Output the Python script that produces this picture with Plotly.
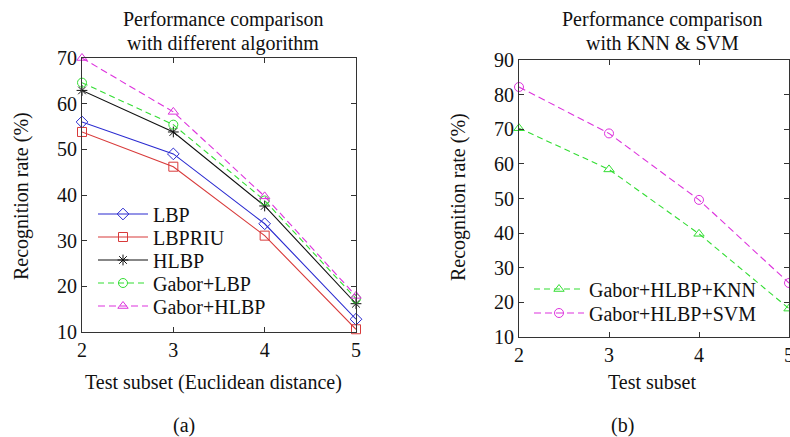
import plotly.graph_objects as go

subsets = [2, 3, 4, 5]

# Panel (a)
lbp = [56.0, 49.0, 33.7, 12.8]
lbpriu = [53.8, 46.2, 31.1, 10.6]
hlbp = [62.9, 53.8, 37.6, 16.2]
gabor_lbp = [64.6, 55.4, 38.8, 17.3]
gabor_hlbp = [70.0, 58.2, 39.7, 17.9]

# Panel (b)
knn = [70.3, 58.4, 39.8, 18.2]
svm = [82.2, 68.8, 49.6, 25.6]

W, H = 790, 437
FONT = "Liberation Serif"
FS = 20
TXT = "#111111"

fig = go.Figure()

def px(v):
    return v / W

def py(v):
    return 1 - v / H

legend_layouts = {}

def add(y, name, color, sym, dash, xa, ya, leg, lx, ly):
    fig.add_trace(go.Scatter(
        x=subsets, y=y, name=name, mode="lines+markers",
        line=dict(color=color, width=1.1, dash=dash),
        marker=dict(symbol=sym, size=9, color=color, line=dict(color=color, width=1)),
        xaxis=xa, yaxis=ya, legend=leg, cliponaxis=False))
    legend_layouts[leg] = dict(x=px(lx), y=py(ly), xanchor="left", yanchor="middle",
                               bgcolor="rgba(0,0,0,0)", font=dict(family=FONT, size=FS, color=TXT),
                               itemwidth=50, tracegroupgap=0)

add(lbp, "LBP", "#2a2ad0", "diamond-open", "solid", "x", "y", "legend", 93, 214)
add(lbpriu, "LBPRIU", "#d83a3a", "square-open", "solid", "x", "y", "legend2", 93, 237)
add(hlbp, "HLBP", "#111111", "asterisk-open", "solid", "x", "y", "legend3", 93, 260)
add(gabor_lbp, "Gabor+LBP", "#33dd33", "circle-open", "6px,4px", "x", "y", "legend4", 93, 283)
add(gabor_hlbp, "Gabor+HLBP", "#dd33dd", "triangle-up-open", "7px,4px", "x", "y", "legend5", 93, 306)
add(knn, "Gabor+HLBP+KNN", "#33dd33", "triangle-up-open", "6px,4px", "x2", "y2", "legend6", 529, 289)
add(svm, "Gabor+HLBP+SVM", "#dd33dd", "circle-open", "7px,4px", "x2", "y2", "legend7", 529, 313)

axis_common = dict(showline=True, linecolor="#333333", linewidth=1, mirror="ticks",
                   ticks="inside", ticklen=5, tickcolor="#333333", showgrid=False,
                   zeroline=False, automargin=False, ticklabeloverflow="allow",
                   tickfont=dict(family=FONT, size=FS, color=TXT))

fig.update_layout(
    width=W, height=H, margin=dict(l=0, r=0, t=0, b=0),
    paper_bgcolor="white", plot_bgcolor="white",
    font=dict(family=FONT, size=FS, color=TXT),
    xaxis=dict(domain=[px(82), px(356)], range=[2, 5], tickvals=subsets, anchor="y", **axis_common),
    yaxis=dict(domain=[py(332), py(58)], range=[10, 70], tickvals=[10, 20, 30, 40, 50, 60, 70], anchor="x", **axis_common),
    xaxis2=dict(domain=[px(519), px(789)], range=[2, 5], tickvals=subsets, anchor="y2", **axis_common),
    yaxis2=dict(domain=[py(337), py(60)], range=[10, 90], tickvals=[10, 20, 30, 40, 50, 60, 70, 80, 90], anchor="x2", **axis_common),
    showlegend=True,
    **legend_layouts,
)

def ann(text, x, y, angle=0):
    fig.add_annotation(text=text, x=px(x), y=py(y), xref="paper", yref="paper",
                       showarrow=False, xanchor="center", yanchor="middle", textangle=angle,
                       font=dict(family=FONT, size=FS, color=TXT))

ann("Performance comparison", 223, 20)
ann("with different algorithm", 223, 43)
ann("Performance comparison", 662, 20)
ann("with KNN &amp; SVM", 662, 43)
ann("Recognition rate (%)", 21, 196, -90)
ann("Recognition rate (%)", 458, 197, -90)
ann("Test subset (Euclidean distance)", 213, 382)
ann("Test subset", 652, 382)
ann("(a)", 184, 425)
ann("(b)", 622, 425)

fig.write_html("out.html", config={"displayModeBar": False},
               post_script="document.body.style.margin='0px';document.body.style.overflow='hidden';")
